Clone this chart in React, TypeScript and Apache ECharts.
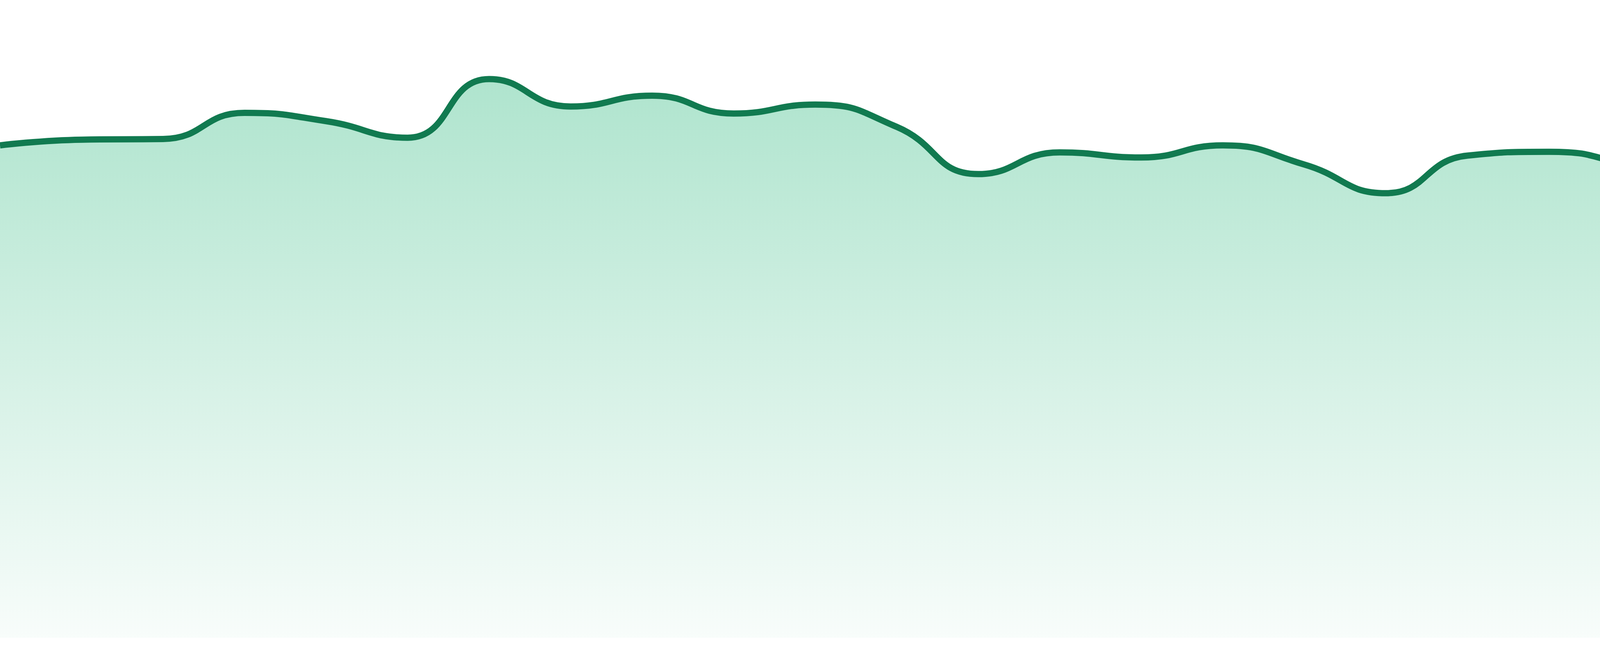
import React, { useEffect, useRef } from 'react';
import * as echarts from 'echarts';

// 24 evenly spaced samples (0-100 scale)
const categories = [
  'P1', 'P2', 'P3', 'P4', 'P5', 'P6', 'P7', 'P8', 'P9', 'P10', 'P11', 'P12',
  'P13', 'P14', 'P15', 'P16', 'P17', 'P18', 'P19', 'P20', 'P21', 'P22', 'P23', 'P24'
];

const values = [
  77.2, 78.1, 78.2, 82.3, 81.0, 78.4, 87.6, 83.3, 85.0, 82.2, 83.6, 80.1,
  72.7, 76.1, 75.3, 77.2, 74.2, 69.7, 75.6, 76.2, 73.9, 69.6, 72.2, 67.2
];

const lineColor = '#117a50';
const fillTop = 'rgba(19, 176, 110, 0.34)';
const fillBottom = 'rgba(19, 176, 110, 0.03)';

const AreaChart: React.FC = () => {
  const chartRef = useRef<HTMLDivElement>(null);

  useEffect(() => {
    document.body.style.margin = '0';
    if (!chartRef.current) return;
    const chart = echarts.init(chartRef.current, undefined, { renderer: 'svg' });
    const option: echarts.EChartsOption = {
      animation: false,
      grid: { left: 0, right: 0, top: 0, bottom: 47 },
      xAxis: {
        type: 'category',
        data: categories,
        boundaryGap: false,
        show: false
      },
      yAxis: {
        type: 'value',
        min: 0,
        max: 100,
        show: false
      },
      series: [
        {
          type: 'line',
          data: values,
          smooth: true,
          symbol: 'none',
          lineStyle: { color: lineColor, width: 16 },
          areaStyle: {
            opacity: 1,
            color: new echarts.graphic.LinearGradient(0, 0, 0, 1, [
              { offset: 0, color: fillTop },
              { offset: 1, color: fillBottom }
            ])
          }
        }
      ]
    };
    chart.setOption(option);
    return () => {
      chart.dispose();
    };
  }, []);

  return <div ref={chartRef} style={{ width: 4800, height: 1680 }} />;
};

export default function App() {
  return <AreaChart />;
}
